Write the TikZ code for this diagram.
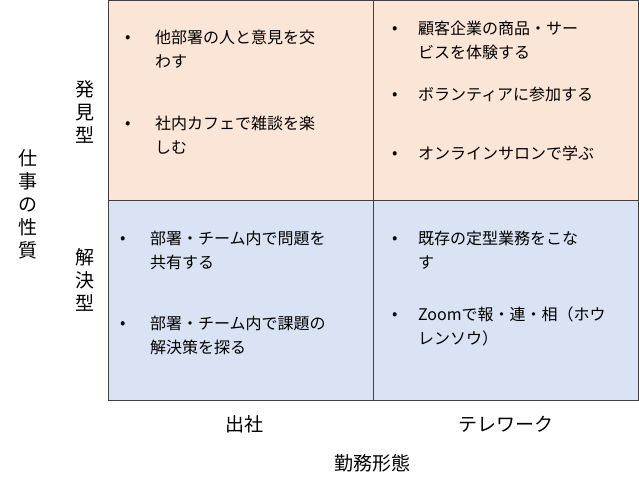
\documentclass[tikz,border=0pt]{standalone}
\usepackage{fontspec}
\setmainfont{Noto Sans CJK JP}
\begin{document}
\begin{tikzpicture}[x=1pt,y=-1pt,
  cell/.style={draw=black!75,line width=0.8pt},
  item/.style={anchor=north west,align=left,font=\fontsize{16}{24}\selectfont,inner sep=0pt},
  bul/.style={anchor=north west,font=\fontsize{16}{24}\selectfont,inner sep=0pt,yshift=-5pt},
  lab/.style={font=\fontsize{19}{23}\selectfont,align=center,inner sep=0pt}]
\useasboundingbox (0,0) rectangle (639,491);
\fill[fill={rgb,255:red,251;green,229;blue,214}] (108,0) rectangle (638,200);
\fill[fill={rgb,255:red,218;green,227;blue,243}] (108,200) rectangle (638,400);
\draw[cell] (108,0) rectangle (638,400);
\draw[cell] (373,0) -- (373,400);
\draw[cell] (108,200) -- (638,200);
% top-left
\node[bul] (b1) at (125,30) {•};
\node[item] (t1) at (155,30) {他部署の人と意見を交\\わす};
\node[bul] (b2) at (125,116) {•};
\node[item] (t2) at (155,116) {社内カフェで雑談を楽\\しむ};
% top-right
\node[bul] (b3) at (392,21) {•};
\node[item] (t3) at (418,21) {顧客企業の商品・サー\\ビスを体験する};
\node[bul] (b4) at (392,87) {•};
\node[item] (t4) at (418,87) {ボランティアに参加する};
\node[bul] (b5) at (392,146) {•};
\node[item] (t5) at (418,146) {オンラインサロンで学ぶ};
% bottom-left
\node[bul] (b6) at (120,231) {•};
\node[item] (t6) at (150,231) {部署・チーム内で問題を\\共有する};
\node[bul] (b7) at (120,316) {•};
\node[item] (t7) at (150,316) {部署・チーム内で課題の\\解決策を探る};
% bottom-right
\node[bul] (b8) at (392,231) {•};
\node[item] (t8) at (418,231) {既存の定型業務をこな\\す};
\node[bul] (b9) at (392,307) {•};
\node[item] (t9) at (418,307) {Zoomで報・連・相（ホウ\\レンソウ）};
% labels
\node[lab] (l1) at (85,112) {発\\見\\型};
\node[lab] (l2) at (85,280) {解\\決\\型};
\node[lab] (l3) at (28,204) {仕\\事\\の\\性\\質};
\node[lab] (l4) at (244,424) {出社};
\node[lab] (l5) at (506,424) {テレワーク};
\node[lab] (l6) at (372,463) {勤務形態};
\end{tikzpicture}
\end{document}
